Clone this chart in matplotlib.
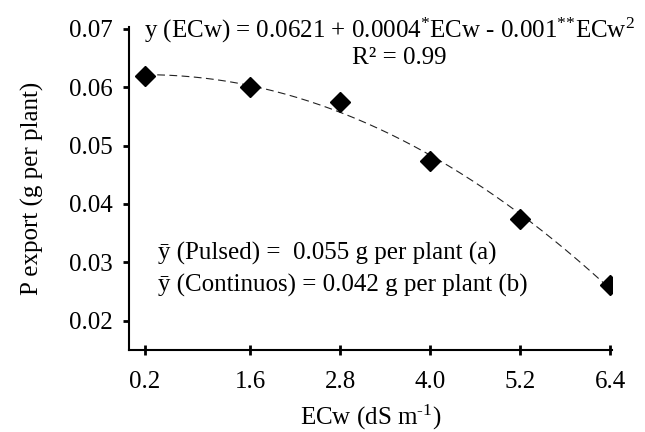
import numpy as np
import matplotlib
matplotlib.use("Agg")
import matplotlib.pyplot as plt

plt.rcParams['font.family'] = ['Liberation Serif', 'DejaVu Serif']
plt.rcParams['mathtext.fontset'] = 'custom'
plt.rcParams['mathtext.rm'] = 'Liberation Serif'
plt.rcParams['mathtext.it'] = 'Liberation Serif:italic'

# salinity levels and mean P export
ecw = [0.2, 1.6, 2.8, 4.0, 5.2, 6.4]
p_export = [0.0619, 0.0600, 0.0574, 0.0474, 0.0374, 0.0261]
xticklabels = ['0.2', '1.6', '2.8', '4.0', '5.2', '6.4']
yticks = [0.02, 0.03, 0.04, 0.05, 0.06, 0.07]

FS = 18

fig = plt.figure(figsize=(6.45, 4.32), dpi=100)
ax = fig.add_axes([0.2, 0.19, 0.749, 0.7475])

# quadratic trend through the means
coef = np.polyfit(ecw, p_export, 2)
xs = np.linspace(ecw[0], ecw[-1], 200)
ax.plot(xs, np.polyval(coef, xs), color='#222222', lw=0.8, dashes=(7, 4))
ax.plot(ecw, p_export, linestyle='none', marker='D', ms=10.5, color='black')

ax.set_xlim(-0.013, 6.427)
ax.set_ylim(0.015, 0.0703)
ax.set_xticks(ecw)
ax.set_xticklabels(xticklabels)
ax.set_yticks(yticks)
ax.set_yticklabels(['%.2f' % v for v in yticks])

for side in ['top', 'right']:
    ax.spines[side].set_visible(False)
for side in ['left', 'bottom']:
    ax.spines[side].set_linewidth(1.5)

ax.tick_params(axis='y', direction='out', length=4.5, width=2, labelsize=FS, pad=7)
ax.tick_params(axis='x', direction='inout', length=7, width=2, labelsize=FS, pad=12)

ax.set_ylabel('P export (g per plant)', fontsize=FS, labelpad=18)
ax.set_xlabel('ECw (dS m$^{\\text{-1}}$)', fontsize=FS, labelpad=7)

ax.text(0.54, 0.99, 'y (ECw) = 0.0621 + 0.0004$^{*}$ECw - 0.001$^{{*}{*}}$ECw$^{2}$',
        transform=ax.transAxes, ha='center', va='center', fontsize=FS)
ax.text(0.56, 0.905, 'R² = 0.99', transform=ax.transAxes,
        ha='center', va='center', fontsize=FS)

ax.text(0.06, 0.30, 'ȳ (Pulsed) =  0.055 g per plant (a)', transform=ax.transAxes,
        ha='left', va='center', fontsize=FS)
ax.text(0.06, 0.20, 'ȳ (Continuos) = 0.042 g per plant (b)', transform=ax.transAxes,
        ha='left', va='center', fontsize=FS)

fig.savefig('out.png', dpi=100)
